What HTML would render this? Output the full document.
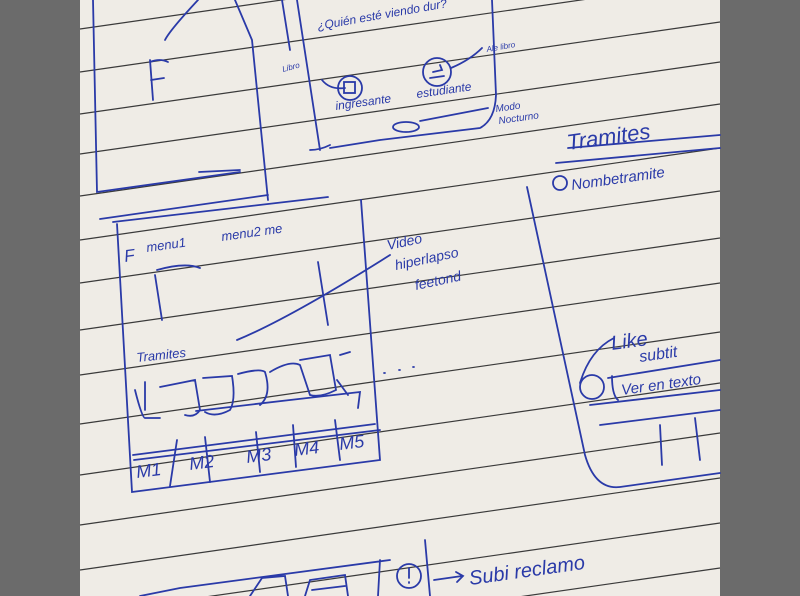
<!DOCTYPE html>
<html><head><meta charset="utf-8"><style>
html,body{margin:0;padding:0;background:#6b6b6b;width:800px;height:596px;overflow:hidden;}
svg{display:block}
text{font-family:"Liberation Sans",sans-serif;fill:#2a3aa8;font-style:italic}
</style></head><body>
<svg width="800" height="596" viewBox="0 0 800 596" xmlns="http://www.w3.org/2000/svg">
<rect width="800" height="596" fill="#6b6b6b"/>
<rect x="80" y="0" width="640" height="596" fill="#efece6"/>
<g stroke="#3a3a3a" stroke-width="1.2">
<line x1="80" y1="-14" x2="720" y2="-106"/>
<line x1="80" y1="29" x2="720" y2="-63"/>
<line x1="80" y1="72" x2="720" y2="-20"/>
<line x1="80" y1="114" x2="720" y2="22"/>
<line x1="80" y1="154" x2="720" y2="62"/>
<line x1="80" y1="196" x2="720" y2="104"/>
<line x1="80" y1="240" x2="720" y2="148"/>
<line x1="80" y1="283" x2="720" y2="191"/>
<line x1="80" y1="330" x2="720" y2="238"/>
<line x1="80" y1="375" x2="720" y2="283"/>
<line x1="80" y1="424" x2="720" y2="332"/>
<line x1="80" y1="475" x2="720" y2="383"/>
<line x1="80" y1="525" x2="720" y2="433"/>
<line x1="80" y1="570" x2="720" y2="478"/>
<line x1="80" y1="615" x2="720" y2="523"/>
<line x1="80" y1="660" x2="720" y2="568"/>
<line x1="80" y1="705" x2="720" y2="613"/>
</g>
<g stroke="#2a3aa8" stroke-width="1.8" fill="none" stroke-linecap="round">
<path d="M93 0 L97 192 L240 172 M199 172 L240 170"/>
<path d="M198 0 Q170 30 165 40"/>
<path d="M150 60 L153 100 M150 62 Q160 58 168 62 M151 80 L164 78"/>
<path d="M235 0 L252 40 L268 200 M282 0 L290 50"/>
<path d="M297 0 L320 150 M310 150 Q320 150 330 145 M330 148 L380 140 L480 128 Q495 120 496 95 L492 0"/>
<circle cx="350" cy="88" r="12"/><rect x="344" y="82" width="11" height="11"/>
<circle cx="437" cy="72" r="14"/><path d="M430 78 L444 76 M433 72 L442 70 L440 65"/>
<path d="M322 80 Q330 90 345 88 M451 68 Q470 60 482 48"/>
<ellipse cx="406" cy="127" rx="13" ry="5"/><path d="M420 121 L488 108"/>
<path d="M100 219 L268 195 M113 222 L328 197"/>
<path d="M117 224 L132 492 L380 460 L361 200"/>
<path d="M133 455 L375 424 M134 460 L380 430"/>
<path d="M170 486 L177 440 M210 482 L205 437 M260 472 L256 432 M296 467 L293 425 M340 460 L335 420"/>
<path d="M135 390 Q142 418 145 418 L160 418 M145 410 L145 382"/>
<path d="M160 387 L195 380 L200 410 Q195 418 185 415 M203 378 L232 376 Q236 400 230 410 Q215 418 205 412"/>
<path d="M238 374 Q260 368 265 372 Q272 395 260 405 M270 372 Q290 360 300 365 M300 360 L330 355 L336 390 Q320 398 310 395 Q305 380 300 365"/>
<path d="M340 355 L350 352 M337 380 L348 395"/>
<path d="M196 411 L290 400 L360 392 L358 408"/>
<path d="M155 275 L162 320 M157 270 Q185 262 200 268 M318 262 L328 325"/>
<path d="M237 340 Q290 318 390 255"/>
<path d="M384 373 l1 0 M399 370 l1 0 M413 367 l1 0"/>
<path d="M527 187 L585 455 Q595 490 620 487 L720 473"/>
<path d="M568 148 L720 135 M556 163 L720 148"/>
<circle cx="560" cy="183" r="7"/>
<circle cx="592" cy="387" r="12"/>
<path d="M580 383 Q590 350 614 338"/>
<path d="M608 378 L720 360 M612 376 Q612 395 618 400 M590 405 L720 390 M600 425 L720 410"/>
<path d="M660 425 L662 465 M695 418 L700 460"/>
<path d="M140 596 L180 588 L390 560 M250 596 L262 578 L285 576 L288 596 M305 596 L310 580 L345 575 L348 596 M312 590 L345 586 M378 596 L380 560 M425 540 L430 596"/>
<circle cx="409" cy="576" r="12"/>
<path d="M409 568 L409 578 M409 582 l0 1"/>
<path d="M434 580 L462 576 M456 572 L463 576 L457 582"/>
</g>
<g font-size="13">
<text x="318" y="30" font-size="12" transform="rotate(-10 318 30)">¿Quién esté viendo dur?</text>
<text x="283" y="72" font-size="8" transform="rotate(-15 283 72)">Libro</text>
<text x="487" y="52" font-size="8" transform="rotate(-10 487 52)">Ale libro</text>
<text x="336" y="110" font-size="12" transform="rotate(-8 336 110)">ingresante</text>
<text x="417" y="98" font-size="12" transform="rotate(-8 417 98)">estudiante</text>
<text x="496" y="112" font-size="10" transform="rotate(-8 496 112)">Modo</text>
<text x="499" y="124" font-size="10" transform="rotate(-8 499 124)">Nocturno</text>
<text x="568" y="150" font-size="22" transform="rotate(-8 568 150)">Tramites</text>
<text x="572" y="190" font-size="15" transform="rotate(-8 572 190)">Nombetramite</text>
<text x="125" y="262" font-size="17" transform="rotate(-8 125 262)">F</text>
<text x="147" y="252" font-size="13" transform="rotate(-8 147 252)">menu1</text>
<text x="222" y="241" font-size="13" transform="rotate(-8 222 241)">menu2 me</text>
<text x="388" y="250" font-size="14" transform="rotate(-12 388 250)">Video</text>
<text x="396" y="270" font-size="14" transform="rotate(-12 396 270)">hiperlapso</text>
<text x="416" y="290" font-size="14" transform="rotate(-12 416 290)">feetond</text>
<text x="137" y="362" font-size="13" transform="rotate(-6 137 362)">Tramites</text>
<text x="137" y="478" font-size="18" transform="rotate(-7 137 478)">M1</text>
<text x="190" y="470" font-size="18" transform="rotate(-7 190 470)">M2</text>
<text x="247" y="463" font-size="18" transform="rotate(-7 247 463)">M3</text>
<text x="295" y="456" font-size="18" transform="rotate(-7 295 456)">M4</text>
<text x="340" y="450" font-size="18" transform="rotate(-7 340 450)">M5</text>
<text x="612" y="350" font-size="20" transform="rotate(-8 612 350)">Like</text>
<text x="640" y="362" font-size="16" transform="rotate(-8 640 362)">subtit</text>
<text x="622" y="395" font-size="15" transform="rotate(-8 622 395)">Ver en texto</text>
<text x="470" y="585" font-size="20" transform="rotate(-8 470 585)">Subi reclamo</text>
</g>
</svg>
</body></html>
